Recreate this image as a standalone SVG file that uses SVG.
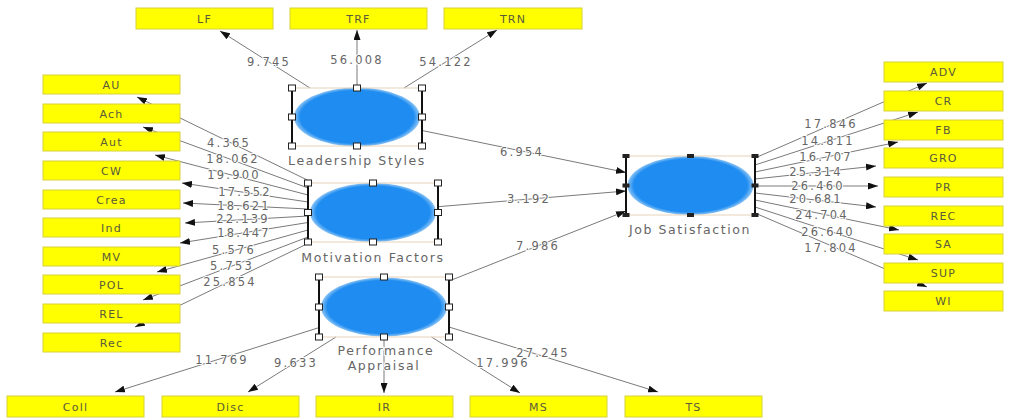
<svg xmlns="http://www.w3.org/2000/svg" width="1012" height="419" viewBox="0 0 1012 419">
<defs>
<marker id="ah" viewBox="0 0 10 7" refX="10" refY="3.5" markerWidth="10" markerHeight="7" markerUnits="userSpaceOnUse" orient="auto">
<path d="M0,0 L10,3.5 L0,7 z" fill="#111"/>
</marker>
<radialGradient id="eg" cx="50%" cy="50%" r="50%">
<stop offset="0.9" stop-color="#1e8cf0"/>
<stop offset="1" stop-color="#8cc4f5"/>
</radialGradient>
</defs>
<style>
.box{fill:#ffff00;stroke:#d6d23a;stroke-width:1}
.bt{font-family:"DejaVu Sans",sans-serif;font-size:11px;fill:#5a5a3c;text-anchor:middle;letter-spacing:1.2px}
.num{font-family:"DejaVu Sans",sans-serif;font-size:11.5px;fill:#666;text-anchor:middle;letter-spacing:2.2px;stroke:#fff;stroke-width:2px;paint-order:stroke}
.lab{font-family:"DejaVu Sans",sans-serif;font-size:12.5px;fill:#666;text-anchor:middle;letter-spacing:1.6px;stroke:#fff;stroke-width:2px;paint-order:stroke}
.ln{stroke:#7a7a7a;stroke-width:1;fill:none;marker-end:url(#ah)}
.frame{fill:none;stroke:#e6d2b8;stroke-width:1}
.side{stroke:#111;stroke-width:2}
.hd{fill:#fff;stroke:#222;stroke-width:1}
.ell{fill:url(#eg)}
</style>
<rect width="1012" height="419" fill="#fff"/>

<g id="connectors">
<line class="ln" x1="310" y1="88" x2="220" y2="31"/>
<line class="ln" x1="357" y1="88" x2="357" y2="30"/>
<line class="ln" x1="404" y1="88" x2="497" y2="30"/>
<line class="ln" x1="422" y1="130.5" x2="626" y2="172.5"/>
<line class="ln" x1="438" y1="206.7" x2="626" y2="191"/>
<line class="ln" x1="449" y1="281" x2="626" y2="211"/>
<line class="ln" x1="312.4" y1="182.5" x2="137" y2="97"/>
<line class="ln" x1="308" y1="188" x2="143" y2="127"/>
<line class="ln" x1="308" y1="195" x2="155" y2="155"/>
<line class="ln" x1="308" y1="202" x2="182" y2="183"/>
<line class="ln" x1="308" y1="209" x2="183" y2="203"/>
<line class="ln" x1="308" y1="216" x2="185" y2="223"/>
<line class="ln" x1="308" y1="222.5" x2="180" y2="243"/>
<line class="ln" x1="308" y1="230" x2="157" y2="272"/>
<line class="ln" x1="308" y1="237" x2="143" y2="300"/>
<line class="ln" x1="312" y1="241.5" x2="135" y2="327"/>
<line class="ln" x1="755" y1="158" x2="927" y2="83"/>
<line class="ln" x1="755" y1="165" x2="918" y2="112"/>
<line class="ln" x1="755" y1="172" x2="898" y2="142"/>
<line class="ln" x1="755" y1="179" x2="876" y2="166"/>
<line class="ln" x1="755" y1="186" x2="878" y2="186"/>
<line class="ln" x1="755" y1="193" x2="876" y2="207"/>
<line class="ln" x1="755" y1="200" x2="899" y2="230"/>
<line class="ln" x1="755" y1="207" x2="918" y2="260"/>
<line class="ln" x1="755" y1="213" x2="927" y2="287"/>
<line class="ln" x1="319" y1="327.6" x2="115" y2="392"/>
<line class="ln" x1="336" y1="337" x2="248" y2="392"/>
<line class="ln" x1="384" y1="337" x2="384" y2="393"/>
<line class="ln" x1="431.5" y1="337" x2="520" y2="393"/>
<line class="ln" x1="449" y1="327" x2="658" y2="392"/>
</g>

<g id="path-labels">
<text class="num" x="269" y="66">9.745</text>
<text class="num" x="357" y="64">56.008</text>
<text class="num" x="446" y="66">54.122</text>
<text class="num" x="522" y="156">6.954</text>
<text class="num" x="529" y="203">3.192</text>
<text class="num" x="538" y="250">7.986</text>
<text class="num" x="229" y="147">4.365</text>
<text class="num" x="233" y="163">18.062</text>
<text class="num" x="234" y="179">19.900</text>
<text class="num" x="245" y="196">17.552</text>
<text class="num" x="244" y="210">18.621</text>
<text class="num" x="243" y="223">22.139</text>
<text class="num" x="244" y="237">18.447</text>
<text class="num" x="234" y="254">5.576</text>
<text class="num" x="232" y="270">5.753</text>
<text class="num" x="230" y="286">25.854</text>
<text class="num" x="831" y="128">17.846</text>
<text class="num" x="828" y="145">14.811</text>
<text class="num" x="826" y="161">16.707</text>
<text class="num" x="816" y="176">25.314</text>
<text class="num" x="818" y="190">26.460</text>
<text class="num" x="816" y="203">20.681</text>
<text class="num" x="822" y="219">24.704</text>
<text class="num" x="828" y="236">26.640</text>
<text class="num" x="831" y="252">17.804</text>
<text class="num" x="222" y="364">11.769</text>
<text class="num" x="296" y="367">9.633</text>
<text class="num" x="503" y="367">17.996</text>
<text class="num" x="543" y="357">27.245</text>
</g>

<g id="leadership-styles">
<ellipse class="ell" cx="357" cy="117" rx="63" ry="29.5"/>
<rect class="frame" x="292" y="88" width="130" height="58"/>
<line class="side" x1="292" y1="88" x2="292" y2="146"/>
<line class="side" x1="422" y1="88" x2="422" y2="146"/>
<rect class="hd" x="288.5" y="85" width="7" height="6"/><rect class="hd" x="353.5" y="85" width="7" height="6"/><rect class="hd" x="418.5" y="85" width="7" height="6"/>
<rect class="hd" x="288.5" y="114" width="7" height="6"/><rect class="hd" x="418.5" y="114" width="7" height="6"/>
<rect class="hd" x="288.5" y="143" width="7" height="6"/><rect class="hd" x="353.5" y="143" width="7" height="6"/><rect class="hd" x="418.5" y="143" width="7" height="6"/>
<text class="lab" x="357" y="165">Leadership Styles</text>
</g>

<g id="motivation-factors">
<ellipse class="ell" cx="373" cy="212.5" rx="63" ry="29.5"/>
<rect class="frame" x="308" y="183" width="130" height="59"/>
<line class="side" x1="308" y1="183" x2="308" y2="242"/>
<line class="side" x1="438" y1="183" x2="438" y2="242"/>
<rect class="hd" x="304.5" y="180" width="7" height="6"/><rect class="hd" x="369.5" y="180" width="7" height="6"/><rect class="hd" x="434.5" y="180" width="7" height="6"/>
<rect class="hd" x="304.5" y="209.5" width="7" height="6"/><rect class="hd" x="434.5" y="209.5" width="7" height="6"/>
<rect class="hd" x="304.5" y="239" width="7" height="6"/><rect class="hd" x="369.5" y="239" width="7" height="6"/><rect class="hd" x="434.5" y="239" width="7" height="6"/>
<text class="lab" x="373" y="262">Motivation Factors</text>
</g>

<g id="performance-appraisal">
<ellipse class="ell" cx="384" cy="307" rx="63" ry="29.5"/>
<rect class="frame" x="319" y="277" width="130" height="60"/>
<line class="side" x1="319" y1="277" x2="319" y2="337"/>
<line class="side" x1="449" y1="277" x2="449" y2="337"/>
<rect class="hd" x="315.5" y="274" width="7" height="6"/><rect class="hd" x="380.5" y="274" width="7" height="6"/><rect class="hd" x="445.5" y="274" width="7" height="6"/>
<rect class="hd" x="315.5" y="304" width="7" height="6"/><rect class="hd" x="445.5" y="304" width="7" height="6"/>
<rect class="hd" x="315.5" y="334" width="7" height="6"/><rect class="hd" x="380.5" y="334" width="7" height="6"/><rect class="hd" x="445.5" y="334" width="7" height="6"/>
<text class="lab" x="386" y="355">Performance</text>
<text class="lab" x="384" y="370">Appraisal</text>
</g>

<g id="job-satisfaction">
<ellipse class="ell" cx="690.5" cy="185.5" rx="63" ry="29.5"/>
<rect class="frame" x="626" y="156" width="129" height="59"/>
<line class="side" x1="626" y1="156" x2="626" y2="215"/>
<line class="side" x1="755" y1="156" x2="755" y2="215"/>
<g fill="#222">
<rect x="622.5" y="154" width="7" height="4"/><rect x="687" y="154" width="7" height="4"/><rect x="751.5" y="154" width="7" height="4"/>
<rect x="622.5" y="183.5" width="7" height="4"/><rect x="751.5" y="183.5" width="7" height="4"/>
<rect x="622.5" y="213" width="7" height="4"/><rect x="687" y="213" width="7" height="4"/><rect x="751.5" y="213" width="7" height="4"/>
</g>
<text class="lab" x="690" y="234">Job Satisfaction</text>
</g>

<g id="LF"><rect class="box" x="136" y="8" width="137" height="21"/><text class="bt" x="204.5" y="22.5">LF</text></g>
<g id="TRF"><rect class="box" x="290" y="8" width="137" height="21"/><text class="bt" x="358.5" y="22.5">TRF</text></g>
<g id="TRN"><rect class="box" x="444" y="8" width="138" height="21"/><text class="bt" x="513" y="22.5">TRN</text></g>

<g id="AU"><rect class="box" x="43" y="75" width="137" height="19"/><text class="bt" x="111.5" y="88.5">AU</text></g>
<g id="Ach"><rect class="box" x="43" y="104" width="137" height="19"/><text class="bt" x="111.5" y="117.5">Ach</text></g>
<g id="Aut"><rect class="box" x="43" y="132" width="137" height="19"/><text class="bt" x="111.5" y="145.5">Aut</text></g>
<g id="CW"><rect class="box" x="43" y="161" width="137" height="19"/><text class="bt" x="111.5" y="174.5">CW</text></g>
<g id="Crea"><rect class="box" x="43" y="190" width="137" height="19"/><text class="bt" x="111.5" y="203.5">Crea</text></g>
<g id="Ind"><rect class="box" x="43" y="218" width="137" height="19"/><text class="bt" x="111.5" y="231.5">Ind</text></g>
<g id="MV"><rect class="box" x="43" y="247" width="137" height="19"/><text class="bt" x="111.5" y="260.5">MV</text></g>
<g id="POL"><rect class="box" x="43" y="275" width="137" height="19"/><text class="bt" x="111.5" y="288.5">POL</text></g>
<g id="REL"><rect class="box" x="43" y="304" width="137" height="19"/><text class="bt" x="111.5" y="317.5">REL</text></g>
<g id="Rec"><rect class="box" x="43" y="333" width="137" height="19"/><text class="bt" x="111.5" y="346.5">Rec</text></g>

<g id="ADV"><rect class="box" x="884" y="62" width="119" height="20"/><text class="bt" x="943.5" y="76">ADV</text></g>
<g id="CR"><rect class="box" x="884" y="91" width="119" height="20"/><text class="bt" x="943.5" y="105">CR</text></g>
<g id="FB"><rect class="box" x="884" y="120" width="119" height="20"/><text class="bt" x="943.5" y="134">FB</text></g>
<g id="GRO"><rect class="box" x="884" y="148" width="119" height="20"/><text class="bt" x="943.5" y="162">GRO</text></g>
<g id="PR"><rect class="box" x="884" y="177" width="119" height="20"/><text class="bt" x="943.5" y="191">PR</text></g>
<g id="REC"><rect class="box" x="884" y="206" width="119" height="20"/><text class="bt" x="943.5" y="220">REC</text></g>
<g id="SA"><rect class="box" x="884" y="234" width="119" height="20"/><text class="bt" x="943.5" y="248">SA</text></g>
<g id="SUP"><rect class="box" x="884" y="263" width="119" height="20"/><text class="bt" x="943.5" y="277">SUP</text></g>
<g id="WI"><rect class="box" x="884" y="291" width="119" height="20"/><text class="bt" x="943.5" y="305">WI</text></g>

<g id="Coll"><rect class="box" x="7" y="396" width="137" height="21"/><text class="bt" x="75.5" y="410.5">Coll</text></g>
<g id="Disc"><rect class="box" x="162" y="396" width="137" height="21"/><text class="bt" x="230.5" y="410.5">Disc</text></g>
<g id="IR"><rect class="box" x="316" y="396" width="137" height="21"/><text class="bt" x="384.5" y="410.5">IR</text></g>
<g id="MS"><rect class="box" x="470" y="396" width="137" height="21"/><text class="bt" x="538.5" y="410.5">MS</text></g>
<g id="TS"><rect class="box" x="625" y="396" width="137" height="21"/><text class="bt" x="693.5" y="410.5">TS</text></g>
</svg>
